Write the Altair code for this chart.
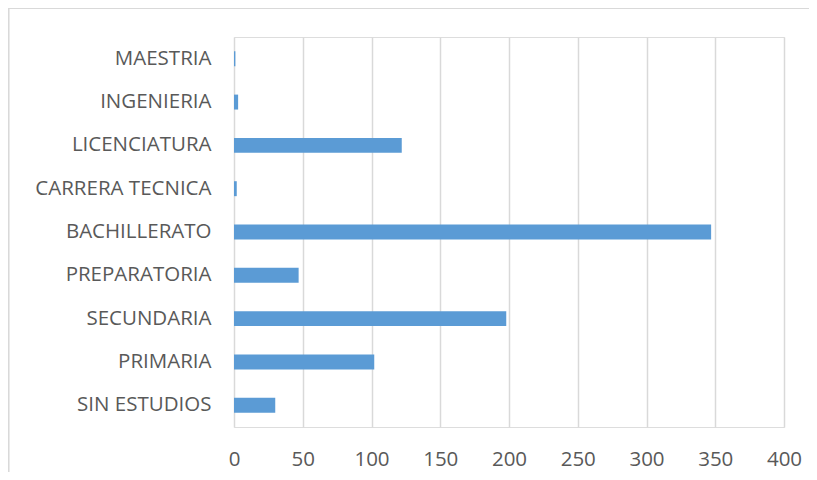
import altair as alt
import pandas as pd

categories = ["MAESTRIA", "INGENIERIA", "LICENCIATURA", "CARRERA TECNICA",
              "BACHILLERATO", "PREPARATORIA", "SECUNDARIA", "PRIMARIA", "SIN ESTUDIOS"]
values = [1, 3, 122, 2, 347, 47, 198, 102, 30]
x_ticks = [0, 50, 100, 150, 200, 250, 300, 350, 400]

df = pd.DataFrame({"cat": categories, "val": values})

FONT = "Open Sans"
LABEL_COLOR = "#595959"

bars = alt.Chart(df).mark_bar(color="#5B9BD5").encode(
    x=alt.X("val:Q",
            scale=alt.Scale(domain=[0, 400], nice=False),
            axis=alt.Axis(values=x_ticks, title=None, domain=False, ticks=False,
                          grid=True, gridColor="#d9d9d9", gridWidth=1.5,
                          labelFont=FONT, labelFontSize=20.5, labelColor=LABEL_COLOR,
                          labelFlush=False, labelPadding=22)),
    y=alt.Y("cat:N", sort=categories,
            scale=alt.Scale(paddingInner=0.655, paddingOuter=0.33),
            axis=alt.Axis(title=None, domain=False, ticks=False, grid=False,
                          labelFont=FONT, labelFontSize=20.5, labelColor=LABEL_COLOR,
                          labelPadding=23)),
)

frame = alt.Chart(df).mark_rect(fill=None, stroke="#d9d9d9", strokeWidth=1.2).encode(
    x=alt.value(-225.5), x2=alt.value(600), y=alt.value(-28.5), y2=alt.value(500)
)

chart = alt.layer(frame, bars).properties(
    width=550, height=390,
    autosize=alt.AutoSizeParams(type="none"),
    padding={"left": 226, "top": 29, "right": 25, "bottom": 45},
).configure_view(stroke=None).configure(background="white")

chart.save("out.html", embed_options={"renderer": "svg", "actions": False})
